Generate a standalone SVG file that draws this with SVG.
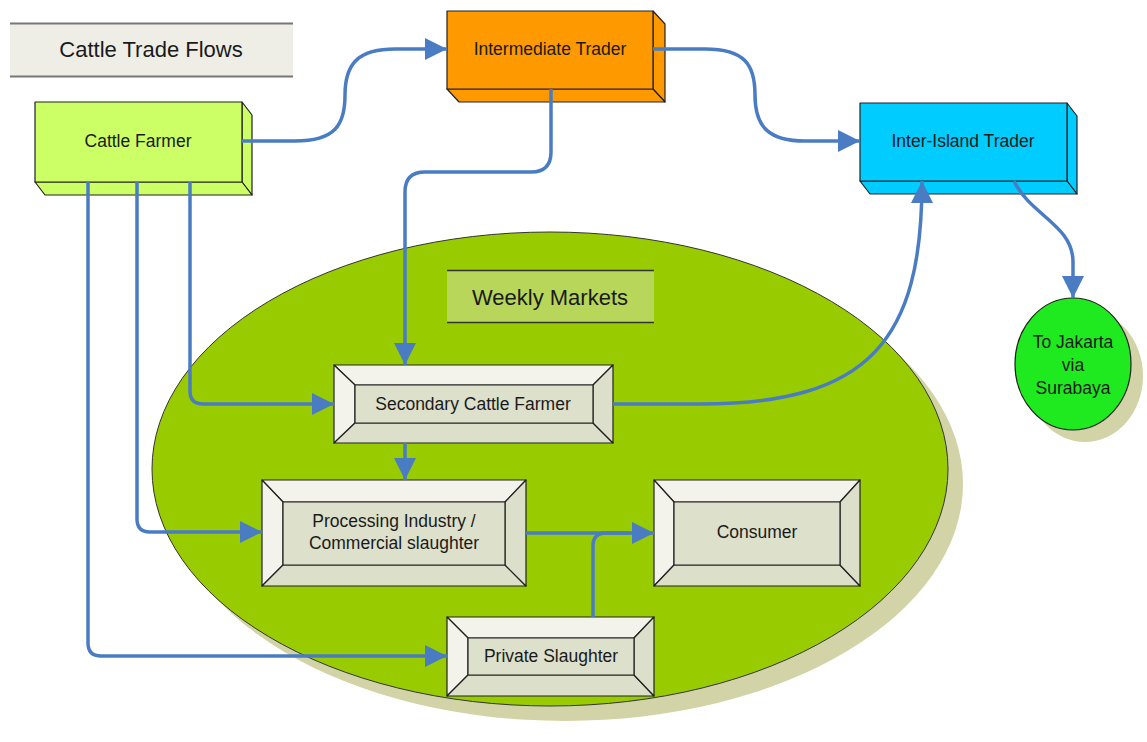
<svg xmlns="http://www.w3.org/2000/svg" width="1147" height="742" viewBox="0 0 1147 742">
<defs>
<marker id="arr" markerUnits="userSpaceOnUse" markerWidth="24" markerHeight="22" refX="22" refY="11" orient="auto" viewBox="0 0 24 22">
<path d="M0,0 L22,11 L0,22 z" fill="#4A7CC4"/>
</marker>
<style>
text{font-family:"Liberation Sans",Arial,sans-serif;fill:#1a1a1a;text-anchor:middle;dominant-baseline:central}
.lbl{font-size:17.5px}
.big{font-size:22px}
.edge{stroke:#4A7CC4;stroke-width:3.5;fill:none}
.ol{stroke:#222;stroke-width:1.2;stroke-linejoin:round}
.lt{fill:#F3F3EB}
.dk{fill:#DCDFC9}
.in{fill:#DDE0CB}
</style>
</defs>
<rect width="1147" height="742" fill="#fff"/>

<g id="title">
<rect x="10" y="23" width="283" height="54" fill="#EEEEE6"/>
<line x1="10" y1="23.5" x2="293" y2="23.5" stroke="#777" stroke-width="2"/>
<line x1="10" y1="76.5" x2="293" y2="76.5" stroke="#777" stroke-width="2"/>
<text x="151" y="49" class="big">Cattle Trade Flows</text>
</g>

<g id="weekly-markets">
<ellipse cx="565" cy="484" rx="398" ry="237" fill="#D3D3A8"/>
<ellipse cx="550" cy="469" rx="398" ry="237" fill="#99CC00" stroke="#333" stroke-width="1"/>
<rect x="447" y="270" width="207" height="53" fill="#B8D65A"/>
<line x1="447" y1="270.5" x2="654" y2="270.5" stroke="#333" stroke-width="1.5"/>
<line x1="447" y1="322.5" x2="654" y2="322.5" stroke="#333" stroke-width="1.5"/>
<text x="550" y="297" class="big">Weekly Markets</text>
</g>

<g id="to-jakarta">
<ellipse cx="1085" cy="376" rx="58" ry="66" fill="#D3D3A8"/>
<ellipse cx="1073" cy="364" rx="58" ry="66" fill="#1FEA1F" stroke="#222" stroke-width="1.2"/>
<text x="1073" y="342" class="lbl">To Jakarta</text>
<text x="1073" y="365" class="lbl">via</text>
<text x="1073" y="388" class="lbl">Surabaya</text>
</g>

<g id="cattle-farmer">
<polygon class="ol" fill="#CCFF66" points="242,102 252,115 252,195 242,182"/>
<polygon class="ol" fill="#CCFF66" points="35,182 242,182 252,195 45,195"/>
<rect class="ol" x="35" y="102" width="207" height="80" fill="#CCFF66"/>
<text x="138" y="141" class="lbl">Cattle Farmer</text>
</g>

<g id="intermediate-trader">
<polygon class="ol" fill="#FF9900" points="653,11 665,24 665,102 653,89"/>
<polygon class="ol" fill="#FF9900" points="447,89 653,89 665,102 459,102"/>
<rect class="ol" x="447" y="11" width="206" height="78" fill="#FF9900"/>
<text x="550" y="49" class="lbl">Intermediate Trader</text>
</g>

<g id="inter-island-trader">
<polygon class="ol" fill="#00CCFF" points="1067,103 1077,116 1077,194 1067,181"/>
<polygon class="ol" fill="#00CCFF" points="860,181 1067,181 1077,194 870,194"/>
<rect class="ol" x="860" y="103" width="207" height="78" fill="#00CCFF"/>
<text x="963" y="141" class="lbl">Inter-Island Trader</text>
</g>

<g id="secondary-cattle-farmer">
<polygon class="ol lt" points="334,365 613,365 593,385 355,385"/>
<polygon class="ol lt" points="334,365 355,385 355,423 334,443"/>
<polygon class="ol dk" points="334,443 355,423 593,423 613,443"/>
<polygon class="ol dk" points="613,365 613,443 593,423 593,385"/>
<rect class="ol in" x="355" y="385" width="238" height="38"/>
<text x="473" y="404" class="lbl">Secondary Cattle Farmer</text>
</g>

<g id="processing-industry">
<polygon class="ol lt" points="262,480 526,480 505,502 283,502"/>
<polygon class="ol lt" points="262,480 283,502 283,565 262,586"/>
<polygon class="ol dk" points="262,586 283,565 505,565 526,586"/>
<polygon class="ol dk" points="526,480 526,586 505,565 505,502"/>
<rect class="ol in" x="283" y="502" width="222" height="63"/>
<text x="394" y="521" class="lbl">Processing Industry /</text>
<text x="394" y="543" class="lbl">Commercial slaughter</text>
</g>

<g id="consumer">
<polygon class="ol lt" points="654,480 860,480 840,502 674,502"/>
<polygon class="ol lt" points="654,480 674,502 674,565 654,586"/>
<polygon class="ol dk" points="654,586 674,565 840,565 860,586"/>
<polygon class="ol dk" points="860,480 860,586 840,565 840,502"/>
<rect class="ol in" x="674" y="502" width="166" height="63"/>
<text x="757" y="532" class="lbl">Consumer</text>
</g>

<g id="private-slaughter">
<polygon class="ol lt" points="447,617 654,617 634,638 468,638"/>
<polygon class="ol lt" points="447,617 468,638 468,675 447,696"/>
<polygon class="ol dk" points="447,696 468,675 634,675 654,696"/>
<polygon class="ol dk" points="654,617 654,696 634,675 634,638"/>
<rect class="ol in" x="468" y="638" width="166" height="37"/>
<text x="551" y="656" class="lbl">Private Slaughter</text>
</g>

<g id="connectors">
<path class="edge" marker-end="url(#arr)" d="M242,141 H295 C335,141 345,125 345,95 C345,62 360,49 395,49 H447"/>
<path class="edge" marker-end="url(#arr)" d="M653,49 H705 C745,49 755,65 755,95 C755,128 770,141 805,141 H860"/>
<path class="edge" marker-end="url(#arr)" d="M551,89 V152 Q551,172 531,172 H425 Q405,172 405,192 V365"/>
<path class="edge" marker-end="url(#arr)" d="M190,182 V391 Q190,404 203,404 H334"/>
<path class="edge" marker-end="url(#arr)" d="M137,182 V519 Q137,532 150,532 H262"/>
<path class="edge" marker-end="url(#arr)" d="M88,182 V643 Q88,656 101,656 H447"/>
<path class="edge" marker-end="url(#arr)" d="M405,443 V480"/>
<path class="edge" marker-end="url(#arr)" d="M526,533 H654"/>
<path class="edge" d="M593,617 V546 Q593,533 606,533 H630"/>
<path class="edge" marker-end="url(#arr)" d="M613,404 H700 C870,404 922,340 922,181"/>
<path class="edge" marker-end="url(#arr)" d="M1014,181 C1030,215 1073,225 1073,262 V298"/>
</g>
</svg>
